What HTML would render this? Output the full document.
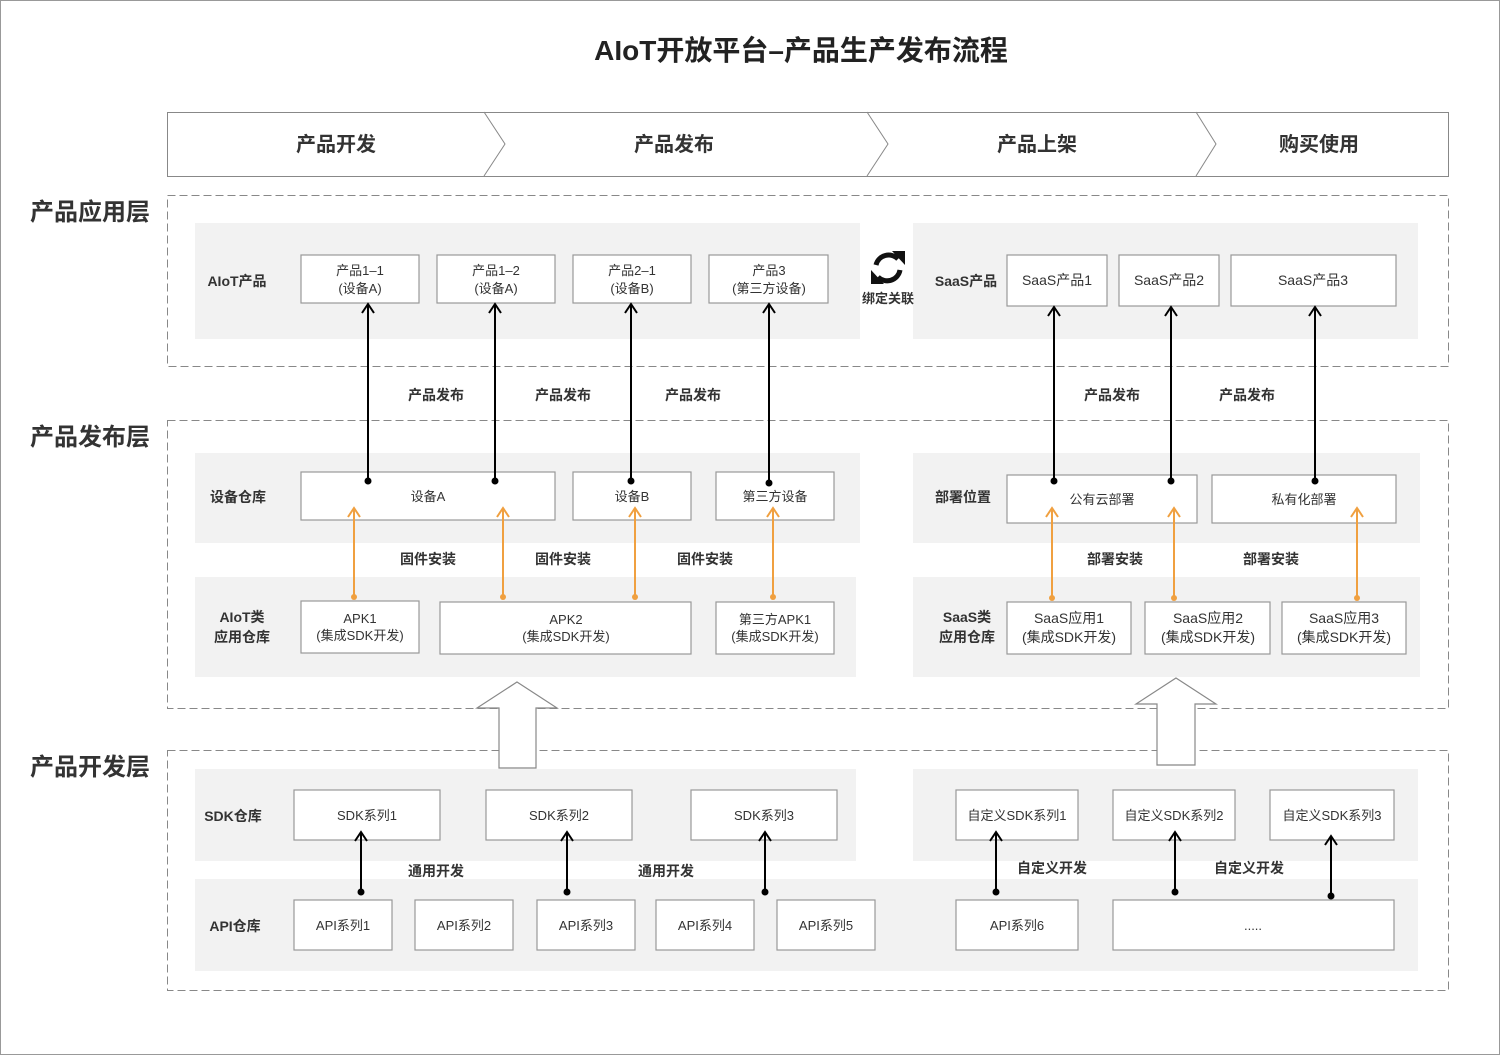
<!DOCTYPE html>
<html><head><meta charset="utf-8"><style>
html,body{margin:0;padding:0;background:#fff}
svg{display:block}
text{font-family:"Liberation Sans","Noto Sans CJK SC",sans-serif;fill:#333}
.b{font-weight:bold}
.box{fill:#fff;stroke:#999;stroke-width:1.2}
.pn{fill:#f2f2f2}
.ds{fill:none;stroke:#888;stroke-width:1;stroke-dasharray:8,4}
</style></head><body>
<svg width="1500" height="1055" viewBox="0 0 1500 1055" xmlns="http://www.w3.org/2000/svg">
<rect x="0.5" y="0.5" width="1499" height="1054" fill="#fff" stroke="#999"/>
<text x="801" y="60" text-anchor="middle" class="b" font-size="28" style="fill:#222">AIoT开放平台–产品生产发布流程</text>

<!-- header -->
<rect x="167.5" y="112.5" width="1281" height="64" fill="#fff" stroke="#888"/>
<path d="M484,112 L505,144 L484,176 M867,112 L888,144 L867,176 M1196,112 L1216,144 L1196,176" fill="none" stroke="#888"/>
<g class="b" font-size="20" text-anchor="middle">
<text x="336" y="151">产品开发</text><text x="674" y="151">产品发布</text><text x="1037" y="151">产品上架</text><text x="1319" y="151">购买使用</text>
</g>

<!-- layers -->
<rect class="ds" x="167.5" y="195.5" width="1281" height="171"/>
<rect class="ds" x="167.5" y="420.5" width="1281" height="288"/>
<rect class="ds" x="167.5" y="750.5" width="1281" height="240"/>
<g class="b" font-size="24" style="fill:#222">
<text x="30" y="220">产品应用层</text><text x="30" y="445">产品发布层</text><text x="30" y="775">产品开发层</text>
</g>

<!-- panels -->
<rect class="pn" x="195" y="223" width="665" height="116"/>
<rect class="pn" x="913" y="223" width="505" height="116"/>
<rect class="pn" x="195" y="453" width="665" height="90"/>
<rect class="pn" x="913" y="453" width="507" height="90"/>
<rect class="pn" x="195" y="577" width="661" height="100"/>
<rect class="pn" x="913" y="577" width="507" height="100"/>
<rect class="pn" x="195" y="769" width="661" height="92"/>
<rect class="pn" x="913" y="769" width="505" height="92"/>
<rect class="pn" x="195" y="879" width="1223" height="92"/>

<!-- row labels -->
<g class="b" font-size="14" text-anchor="middle">
<text x="237" y="286">AIoT产品</text><text x="966" y="286">SaaS产品</text>
<text x="238" y="502">设备仓库</text><text x="963" y="502">部署位置</text>
<text x="242" y="622">AIoT类</text><text x="242" y="642">应用仓库</text>
<text x="967" y="622">SaaS类</text><text x="967" y="642">应用仓库</text>
<text x="233" y="821">SDK仓库</text><text x="235" y="931">API仓库</text>
</g>

<!-- boxes -->
<g font-size="13" text-anchor="middle">
<rect class="box" x="301" y="255" width="118" height="48"/><text x="360" y="275">产品1–1</text><text x="360" y="293">(设备A)</text>
<rect class="box" x="437" y="255" width="118" height="48"/><text x="496" y="275">产品1–2</text><text x="496" y="293">(设备A)</text>
<rect class="box" x="573" y="255" width="118" height="48"/><text x="632" y="275">产品2–1</text><text x="632" y="293">(设备B)</text>
<rect class="box" x="709" y="255" width="119" height="48"/><text x="769" y="275">产品3</text><text x="769" y="293">(第三方设备)</text>
<rect class="box" x="1007" y="255" width="100" height="51"/><text x="1057" y="285" font-size="14">SaaS产品1</text>
<rect class="box" x="1119" y="255" width="100" height="51"/><text x="1169" y="285" font-size="14">SaaS产品2</text>
<rect class="box" x="1231" y="255" width="165" height="51"/><text x="1313" y="285" font-size="14">SaaS产品3</text>

<rect class="box" x="301" y="472" width="254" height="48"/><text x="428" y="501">设备A</text>
<rect class="box" x="573" y="472" width="118" height="48"/><text x="632" y="501">设备B</text>
<rect class="box" x="716" y="472" width="118" height="48"/><text x="775" y="501">第三方设备</text>
<rect class="box" x="1007" y="475" width="190" height="48"/><text x="1102" y="504">公有云部署</text>
<rect class="box" x="1212" y="475" width="184" height="48"/><text x="1304" y="504">私有化部署</text>

<rect class="box" x="301" y="601" width="118" height="52"/><text x="360" y="623">APK1</text><text x="360" y="640">(集成SDK开发)</text>
<rect class="box" x="440" y="602" width="251" height="52"/><text x="566" y="624">APK2</text><text x="566" y="641">(集成SDK开发)</text>
<rect class="box" x="716" y="602" width="118" height="52"/><text x="775" y="624">第三方APK1</text><text x="775" y="641">(集成SDK开发)</text>
<rect class="box" x="1007" y="602" width="124" height="52"/><text x="1069" y="623" font-size="14">SaaS应用1</text><text x="1069" y="642" font-size="14">(集成SDK开发)</text>
<rect class="box" x="1145" y="602" width="125" height="52"/><text x="1208" y="623" font-size="14">SaaS应用2</text><text x="1208" y="642" font-size="14">(集成SDK开发)</text>
<rect class="box" x="1282" y="602" width="124" height="52"/><text x="1344" y="623" font-size="14">SaaS应用3</text><text x="1344" y="642" font-size="14">(集成SDK开发)</text>

<rect class="box" x="294" y="790" width="146" height="50"/><text x="367" y="820">SDK系列1</text>
<rect class="box" x="486" y="790" width="146" height="50"/><text x="559" y="820">SDK系列2</text>
<rect class="box" x="691" y="790" width="146" height="50"/><text x="764" y="820">SDK系列3</text>
<rect class="box" x="956" y="790" width="122" height="50"/><text x="1017" y="820">自定义SDK系列1</text>
<rect class="box" x="1113" y="790" width="122" height="50"/><text x="1174" y="820">自定义SDK系列2</text>
<rect class="box" x="1270" y="790" width="124" height="50"/><text x="1332" y="820">自定义SDK系列3</text>

<rect class="box" x="294" y="900" width="98" height="50"/><text x="343" y="930">API系列1</text>
<rect class="box" x="415" y="900" width="98" height="50"/><text x="464" y="930">API系列2</text>
<rect class="box" x="537" y="900" width="98" height="50"/><text x="586" y="930">API系列3</text>
<rect class="box" x="656" y="900" width="98" height="50"/><text x="705" y="930">API系列4</text>
<rect class="box" x="777" y="900" width="98" height="50"/><text x="826" y="930">API系列5</text>
<rect class="box" x="956" y="900" width="122" height="50"/><text x="1017" y="930">API系列6</text>
<rect class="box" x="1113" y="900" width="281" height="50"/><text x="1253" y="930">.....</text>
</g>

<!-- black arrows -->
<g fill="none" stroke="#000" stroke-width="2">
<path d="M368,481 V305 M362,313 L368,304 L374,313"/>
<path d="M495,481 V305 M489,313 L495,304 L501,313"/>
<path d="M631,481 V305 M625,313 L631,304 L637,313"/>
<path d="M769,483 V305 M763,313 L769,304 L775,313"/>
<path d="M1054,481 V308 M1048,316 L1054,307 L1060,316"/>
<path d="M1171,481 V308 M1165,316 L1171,307 L1177,316"/>
<path d="M1315,481 V308 M1309,316 L1315,307 L1321,316"/>
<path d="M361,892 V833 M355,841 L361,832 L367,841"/>
<path d="M567,892 V833 M561,841 L567,832 L573,841"/>
<path d="M765,892 V833 M759,841 L765,832 L771,841"/>
<path d="M996,892 V833 M990,841 L996,832 L1002,841"/>
<path d="M1175,892 V833 M1169,841 L1175,832 L1181,841"/>
<path d="M1331,896 V837 M1325,845 L1331,836 L1337,845"/>
</g>
<g fill="#000">
<circle cx="368" cy="481" r="3.5"/><circle cx="495" cy="481" r="3.5"/><circle cx="631" cy="481" r="3.5"/><circle cx="769" cy="483" r="3.5"/>
<circle cx="1054" cy="481" r="3.5"/><circle cx="1171" cy="481" r="3.5"/><circle cx="1315" cy="481" r="3.5"/>
<circle cx="361" cy="892" r="3.5"/><circle cx="567" cy="892" r="3.5"/><circle cx="765" cy="892" r="3.5"/>
<circle cx="996" cy="892" r="3.5"/><circle cx="1175" cy="892" r="3.5"/><circle cx="1331" cy="896" r="3.5"/>
</g>

<!-- orange arrows -->
<g fill="none" stroke="#f0a040" stroke-width="2">
<path d="M354,597 V509 M348,517 L354,508 L360,517"/>
<path d="M503,597 V509 M497,517 L503,508 L509,517"/>
<path d="M635,597 V509 M629,517 L635,508 L641,517"/>
<path d="M773,597 V509 M767,517 L773,508 L779,517"/>
<path d="M1052,598 V509 M1046,517 L1052,508 L1058,517"/>
<path d="M1174,598 V509 M1168,517 L1174,508 L1180,517"/>
<path d="M1357,598 V509 M1351,517 L1357,508 L1363,517"/>
</g>
<g fill="#f0a040">
<circle cx="354" cy="597" r="3"/><circle cx="503" cy="597" r="3"/><circle cx="635" cy="597" r="3"/><circle cx="773" cy="597" r="3"/>
<circle cx="1052" cy="598" r="3"/><circle cx="1174" cy="598" r="3"/><circle cx="1357" cy="598" r="3"/>
</g>

<!-- connector labels -->
<g class="b" font-size="14" text-anchor="middle">
<text x="436" y="400">产品发布</text><text x="563" y="400">产品发布</text><text x="693" y="400">产品发布</text>
<text x="1112" y="400">产品发布</text><text x="1247" y="400">产品发布</text>
<text x="428" y="564">固件安装</text><text x="563" y="564">固件安装</text><text x="705" y="564">固件安装</text>
<text x="1115" y="564">部署安装</text><text x="1271" y="564">部署安装</text>
<text x="436" y="876">通用开发</text><text x="666" y="876">通用开发</text>
<text x="1052" y="873">自定义开发</text><text x="1249" y="873">自定义开发</text>
<text x="888" y="303" font-size="13">绑定关联</text>
</g>

<!-- sync icon -->
<g fill="none" stroke="#111" stroke-width="5">
<path d="M876,265 A13,13 0 0 1 898,259"/>
<path d="M900,270 A13,13 0 0 1 878,277"/>
</g>
<path d="M892,251 L905,251 L905,265 Z" fill="#111"/>
<path d="M884,284 L871,284 L871,270 Z" fill="#111"/>

<!-- hollow arrows -->
<path d="M517,682 L557,708 L536,708 L536,768 L499,768 L499,708 L477,708 Z" fill="#fff" stroke="#888" stroke-width="1.2"/>
<path d="M1176,678 L1216,704 L1195,704 L1195,765 L1157,765 L1157,704 L1136,704 Z" fill="#fff" stroke="#888" stroke-width="1.2"/>
</svg>
</body></html>
